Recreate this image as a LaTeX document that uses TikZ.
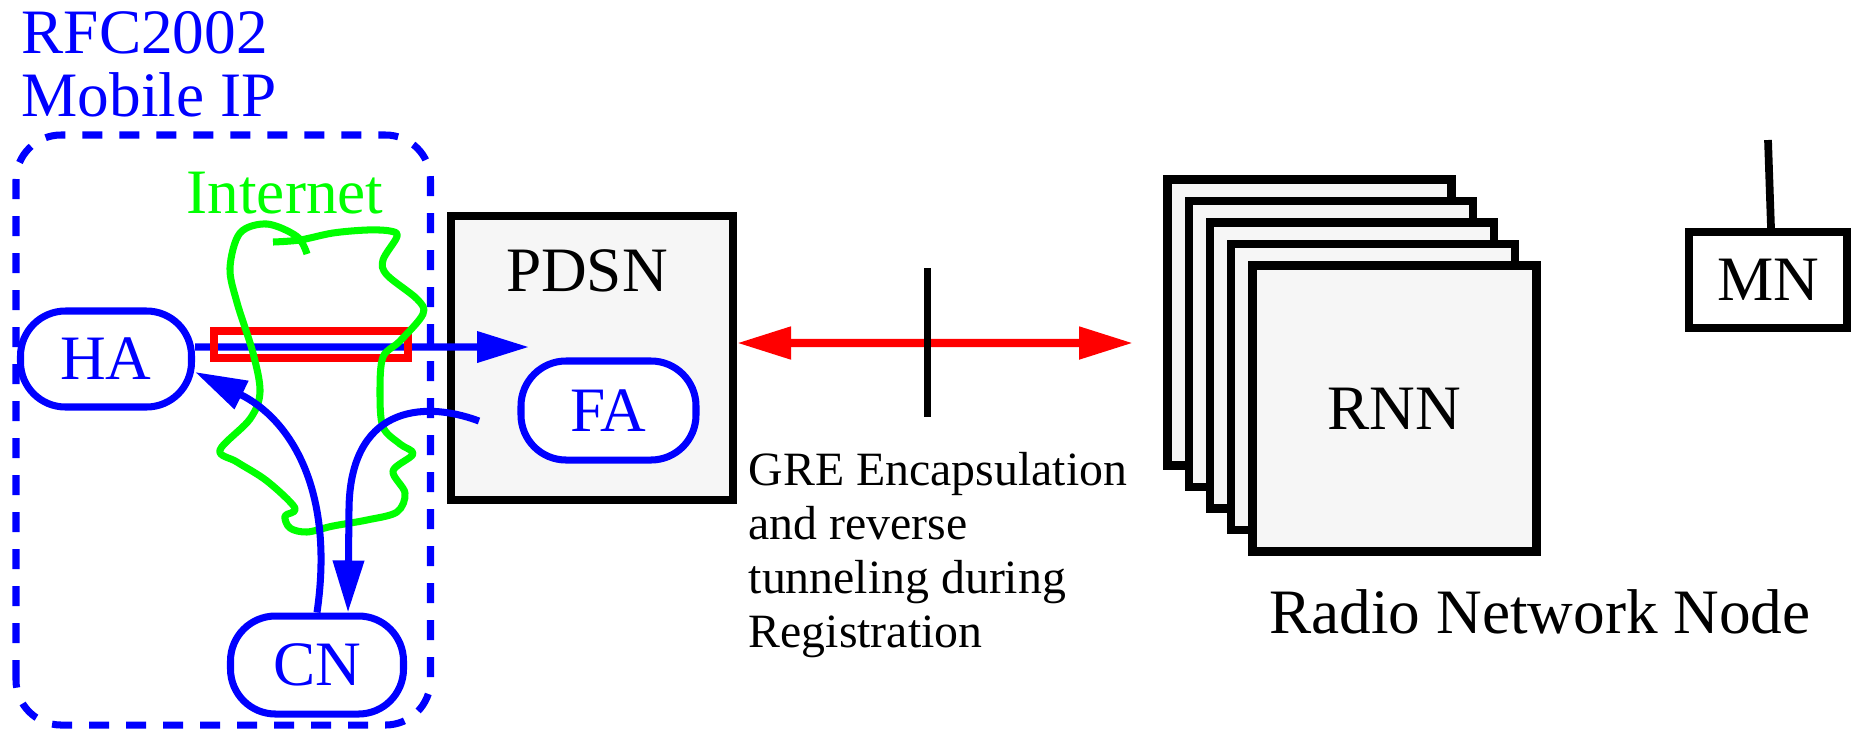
\documentclass[tikz,border=0pt]{standalone}
\usepackage{fontspec}
\setmainfont{Liberation Serif}
\usetikzlibrary{arrows.meta, positioning}
\definecolor{cBlue}{RGB}{0,0,255}
\definecolor{cRed}{RGB}{255,0,0}
\definecolor{cNet}{RGB}{0,255,0}
\definecolor{cBox}{RGB}{246,246,246}
\tikzset{
	agent/.style={rectangle, rounded corners=0.45cm, draw=cBlue, fill=white, text=cBlue, line width=2pt, minimum width=1.73cm, minimum height=0.98cm, inner sep=0pt},
	netbox/.style={rectangle, draw=black, fill=cBox, line width=2.3pt, inner sep=0pt},
	ipzone/.style={draw=cBlue, line width=2pt, rounded corners=0.45cm, dash pattern=on 0.2cm off 0.17cm},
	bluearrow/.style={draw=cBlue, line width=2pt, -{Triangle[length=0.52cm, width=0.3cm]}},
	grearrow/.style={draw=cRed, line width=2.3pt, {Triangle[length=0.54cm, width=0.31cm]}-{Triangle[length=0.54cm, width=0.31cm]}},
	tunnel/.style={rectangle, draw=cRed, line width=2pt, minimum width=1.94cm, minimum height=0.27cm, inner sep=0pt},
	cloud/.style={draw=cNet, line width=2pt, line join=round},
}
\begin{document}
\begin{tikzpicture}[font=\fontsize{18}{17.9}\selectfont]
	\useasboundingbox (0,0) rectangle (18.51,7.29);
	% mobile IP side
	\draw[ipzone] (0.16,0.04) rectangle (4.305,5.94);
	\node[text=cBlue, align=left, anchor=north west, inner sep=0pt] (rfc) at (0.21,7.18) {RFC2002\\Mobile IP};
	\node[text=cNet, anchor=base, inner sep=0pt] (inet) at (2.85,5.16) {Internet};
	\node[netbox, minimum width=2.82cm, minimum height=2.84cm] (pdsn) at (5.92,3.71) {};
	\node[below=0.37cm of pdsn.north, xshift=-0.05cm, inner sep=0pt] (pdsnlbl) {PDSN};
	\node[agent, minimum width=1.75cm, minimum height=0.99cm] (fa) at (6.085,3.185) {FA};
	\node[agent, minimum width=1.71cm, minimum height=0.96cm] (ha) at (1.06,3.70) {HA};
	\node[agent] (cn) at (3.17,0.64) {CN};
	\coordinate (fain) at (5.29,3.82);
	\coordinate (faout) at (4.79,3.08);
	\draw[bluearrow] ([yshift=0.12cm]ha.east) -- (fain);
	\node[tunnel] (tun) at (3.11,3.845) {};
	\draw[cloud] plot[smooth, tension=0.55] coordinates {
		(3.07,4.75) (2.97,4.925) (2.67,5.05) (2.40,4.96) (2.30,4.61) (2.37,4.265)
		(2.53,3.76) (2.60,3.37) (2.50,3.10) (2.20,2.79) (2.37,2.67) (2.67,2.48)
		(2.95,2.21) (2.85,2.13) (2.90,2.01) (3.07,1.97) (3.33,2.03) (3.67,2.09)
		(3.97,2.17) (4.05,2.36) (3.93,2.58) (4.13,2.75) (4.00,2.85) (3.83,3.02)
		(3.80,3.37) (3.83,3.72) (4.00,3.88) (4.23,4.15) (4.17,4.30) (3.87,4.54)
		(3.83,4.69) (3.97,4.925) (3.90,4.98) (3.67,4.99) (3.33,4.96) (3.00,4.89) (2.73,4.87)};
	\draw[bluearrow] (cn.north) .. controls (3.35,2.4) and (2.9,3.1) .. ([yshift=-0.13cm]ha.east);
	\draw[bluearrow] (faout) .. controls (4.2,3.3) and (3.5,3.2) .. (3.49,2.2) -- ([xshift=0.31cm]cn.north);
	% GRE link
	\coordinate (rnnin) at (11.33,3.86);
	\coordinate (tickT) at (9.27,4.61);
	\coordinate (tickB) at (9.27,3.12);
	\draw[grearrow] ([yshift=0.15cm]pdsn.east) -- (rnnin);
	\draw[line width=2pt] (tickT) -- (tickB);
	\node[font=\fontsize{13.6}{15.3}\selectfont, align=left, anchor=north west, inner sep=0pt] (gre) at (7.48,2.77)
		{GRE Encapsulation\\and reverse\\tunneling during\\Registration};
	% radio network nodes
	\foreach \i in {0,...,3}
		\node[netbox, minimum width=2.84cm, minimum height=2.86cm] (rnn\i) at ({13.095+0.2125*\i},{4.065-0.215*\i}) {};
	\node[netbox, minimum width=2.84cm, minimum height=2.86cm] (rnn) at (13.945,3.205) {RNN};
	\node[anchor=base, inner sep=0pt] (rnnlbl) at (15.40,0.96) {Radio Network Node};
	\node[netbox, fill=white, minimum width=1.58cm, minimum height=0.96cm] (mn) at (17.68,4.49) {MN};
	\coordinate (ant) at (17.68,5.89);
	\draw[line width=2.2pt] (ant) -- ([xshift=0.03cm]mn.north);
\end{tikzpicture}
\end{document}
